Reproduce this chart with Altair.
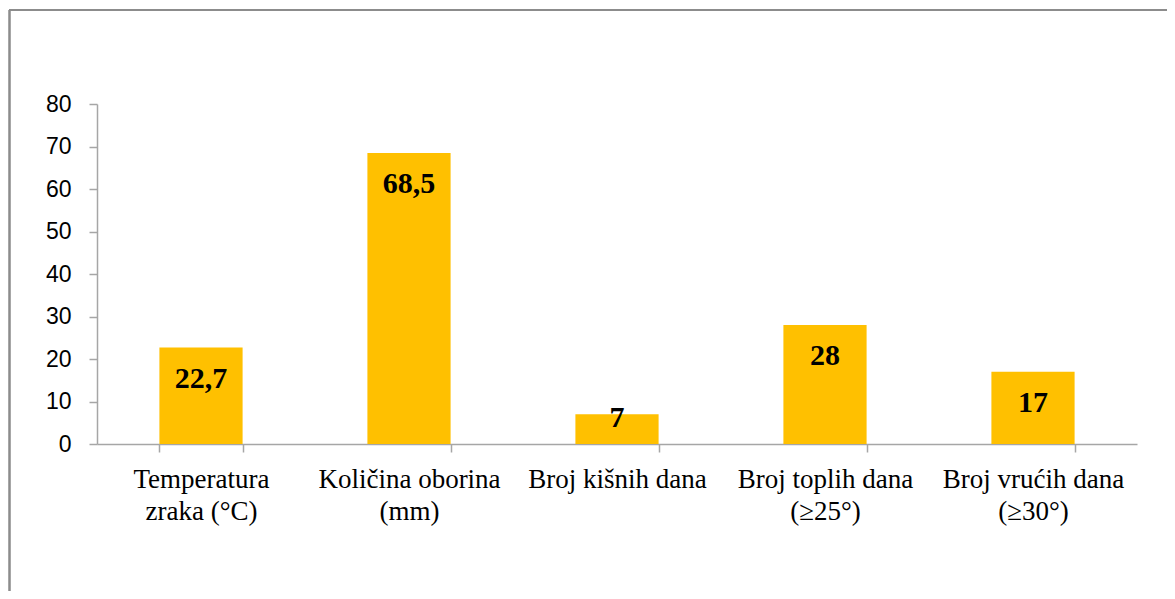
import altair as alt
import pandas as pd

categories = [
    "Temperatura|zraka (°C)",
    "Količina oborina|(mm)",
    "Broj kišnih dana",
    "Broj toplih dana|(≥25°)",
    "Broj vrućih dana|(≥30°)",
]
values = [22.7, 68.5, 7, 28, 17]
value_labels = ["22,7", "68,5", "7", "28", "17"]

df = pd.DataFrame({"cat": categories, "v": values, "lbl": value_labels})

x_enc = alt.X(
    "cat:N",
    sort=categories,
    title=None,
    scale=alt.Scale(paddingInner=0.6, paddingOuter=0.3),
    axis=alt.Axis(
        labelExpr="datum.value ? split(datum.value, '|') : ''",
        labelAngle=0,
        labelFont="Liberation Serif",
        labelFontSize=27,
        labelColor="#000000",
        labelLineHeight=32,
        labelPadding=14,
        labelLimit=400,
        labelOverlap=False,
        tickBand="extent",
        tickSize=8,
        tickColor="#a6a6a6",
        domainColor="#a6a6a6",
        domainWidth=1.5,
        tickWidth=1.5,
    ),
)

y_scale = alt.Scale(domain=[0, 80], nice=False)

bars = alt.Chart(df).mark_bar(color="#FFC000").encode(
    x=x_enc,
    y=alt.Y(
        "v:Q",
        scale=y_scale,
        title=None,
        axis=alt.Axis(
            values=[0, 10, 20, 30, 40, 50, 60, 70, 80],
            grid=False,
            labelFont="Liberation Sans",
            labelFontSize=23,
            labelColor="#000000",
            labelPadding=18,
            tickSize=8,
            tickColor="#a6a6a6",
            domainColor="#a6a6a6",
            domainWidth=1.5,
            tickWidth=1.5,
        ),
    ),
)

text = alt.Chart(df).transform_calculate(
    ly="datum.v > 15 ? datum.v - 7.4 : datum.v - 0.9"
).mark_text(
    font="Liberation Serif",
    fontSize=30,
    fontWeight="bold",
    color="#000000",
    baseline="middle",
).encode(
    x=alt.X("cat:N", sort=categories),
    y=alt.Y("ly:Q", scale=y_scale),
    text="lbl:N",
)

frame_left = alt.Chart(df).mark_rule(color="#8c8c8c", strokeWidth=1.5).encode(
    x=alt.value(-87.5), y=alt.value(-94), y2=alt.value(600)
)
frame_top = alt.Chart(df).mark_rule(color="#8c8c8c", strokeWidth=1.5).encode(
    x=alt.value(-88), x2=alt.value(1200), y=alt.value(-94)
)

chart = alt.layer(bars, text, frame_left, frame_top).properties(
    width=1040,
    height=340,
    autosize=alt.AutoSizeParams(type="none"),
    padding={"left": 89, "top": 96, "right": 30, "bottom": 147},
).configure_view(stroke=None)

chart.save("out.html", embed_options={"renderer": "svg", "actions": False})
